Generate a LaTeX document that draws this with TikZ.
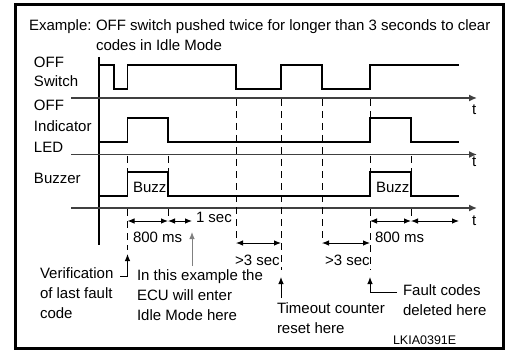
\documentclass[tikz,border=0pt]{standalone}
\usepackage{fontspec}
\setmainfont{Liberation Sans}
\usetikzlibrary{arrows.meta,positioning,calc}
\definecolor{cLine} {HTML}{000000}
\definecolor{cAxis} {HTML}{404040}
\definecolor{cMuted}{HTML}{808080}

\begin{document}
\begin{tikzpicture}[
  x=1pt, y=-1pt,
  font=\fontsize{15}{20}\selectfont,
  txt/.style  ={inner sep=0pt, outer sep=0pt, anchor=north west, align=left},
  sig/.style  ={draw=cLine, line width=1.2pt},
  axis/.style ={draw=cAxis, line width=1.4pt, -{Latex[length=8pt,width=7pt]}},
  guide/.style={draw=cLine, line width=0.9pt, dash pattern=on 7pt off 5pt},
  dim/.style  ={draw=cLine, line width=0.9pt,
                {Latex[length=7pt,width=5.5pt]}-{Latex[length=7pt,width=5.5pt]}},
  ptr/.style  ={draw=cLine, line width=0.9pt, -{Latex[length=7pt,width=5.5pt]}},
]
\useasboundingbox (0,0) rectangle (506,350);

% ---------------------------------------------------------------- frame + title
\draw[line width=2.7pt] (15.3,4.5) rectangle (503.5,348.3);
\node[txt] (ex)    at (29,19.5) {Example:};
\node[txt] (title) at (96,19.5)
  {OFF switch pushed twice for longer than 3 seconds to clear\\codes in Idle Mode};

% ---------------------------------------------------------------- time marks
\coordinate (m1) at (127.5,0);  % first release
\coordinate (m2) at (168,0);    % end of buzz
\coordinate (m3) at (192,0);    % idle mode
\coordinate (m4) at (236,0);    % second press
\coordinate (m5) at (281,0);    % timeout reset
\coordinate (m6) at (322,0);    % third press
\coordinate (m7) at (370,0);    % codes deleted
\coordinate (m8) at (411,0);
\coordinate (m9) at (459,0);
\coordinate (rDim) at (0,221);
\coordinate (rGap) at (0,243);

% ---------------------------------------------------------------- axes
\draw[line width=1.2pt] (99,57) -- (99,245);
\draw[axis] (71,98)    -- (477,98);
\draw[axis] (71,154.5) -- (477,154.5);
\draw[axis] (71,208)   -- (477,208);
\node[txt] (t1) at (472,104.5) {t};
\node[txt] (t2) at (472,156.5) {t};
\node[txt] (t3) at (472,215.5) {t};

\node[txt, font=\fontsize{15}{18.5}\selectfont] (lsw)  at (34,57.5)  {OFF\\Switch};
\node[txt, font=\fontsize{15}{21}\selectfont]   (lled) at (34,100) {OFF\\Indicator\\LED};
\node[txt] (lbuz) at (34,173.5) {Buzzer};

% ---------------------------------------------------------------- signals
\draw[sig] (99,65) -- (114,65) -- (114,89) -- (127.5,89) -- (127.5,65) -- (236,65)
  -- (236,89) -- (281,89) -- (281,65) -- (322,65) -- (322,89) -- (370,89)
  -- (370,65) -- (459,65);
\draw[sig] (99,142) -- (127.5,142) -- (127.5,118) -- (168,118) -- (168,142)
  -- (370,142) -- (370,118) -- (411,118) -- (411,142) -- (459,142);
\draw[sig] (99,196) -- (127.5,196) -- (127.5,172) -- (168,172) -- (168,196)
  -- (370,196) -- (370,172) -- (411,172) -- (411,196) -- (459,196);
\node[txt] (buz1) at (133,182.5) {Buzz};
\node[txt] (buz2) at (376,182.5) {Buzz};

% ---------------------------------------------------------------- guides
\draw[guide] (127.5,156) -- (127.5,172)  (127.5,209) -- (127.5,250);
\draw[guide] (168,156) -- (168,172)      (168,209) -- (168,221);
\draw[guide] (236,99) -- (236,243);
\draw[guide] (281,99) -- (281,270);
\draw[guide] (322,99) -- (322,243);
\draw[guide] (370,99) -- (370,118)  (370,156) -- (370,172)  (370,209) -- (370,270);
\draw[guide] (411,156) -- (411,172)      (411,209) -- (411,221);

% ---------------------------------------------------------------- durations
\draw[dim] (m1 |- rDim) -- (m2 |- rDim);
\draw[dim] (m2 |- rDim) -- (m3 |- rDim);
\draw[dim] (m7 |- rDim) -- (m8 |- rDim);
\draw[dim] (m8 |- rDim) -- (m9 |- rDim);
\draw[dim] (m4 |- rGap) -- (m5 |- rGap);
\draw[dim] (m6 |- rGap) -- (m7 |- rGap);

\node[txt] (d800a) at (133,232.5) {800 ms};
\node[txt] (d1s)   at (196,212.5) {1 sec};
\node[txt] (d3a)   at (235,255.5) {>3 sec};
\node[txt] (d3b)   at (325,255.5) {>3 sec};
\node[txt] (d800b) at (375,232.5) {800 ms};

% ---------------------------------------------------------------- notes
\node[txt] (nver)  at (40,267.5)  {Verification\\of last fault\\code};
\node[txt] (nidle) at (137,269.5) {In this example the\\ECU will enter\\Idle Mode here};
\node[txt] (ntime) at (277,302.5) {Timeout counter\\reset here};
\node[txt] (nfault) at (403,284.5) {Fault codes\\deleted here};
\node[txt, font=\fontsize{12.5}{15}\selectfont] (code) at (393,336) {LKIA0391E};

\draw[ptr] (120,276) -- (127.5,276) -- (127.5,254);
\draw[ptr, draw=cMuted] (192,266) -- (192,232);
\draw[ptr] (281,298) -- (281,277);
\draw[ptr] (397,292) -- (370,292) -- (370,277);

\end{tikzpicture}
\end{document}
